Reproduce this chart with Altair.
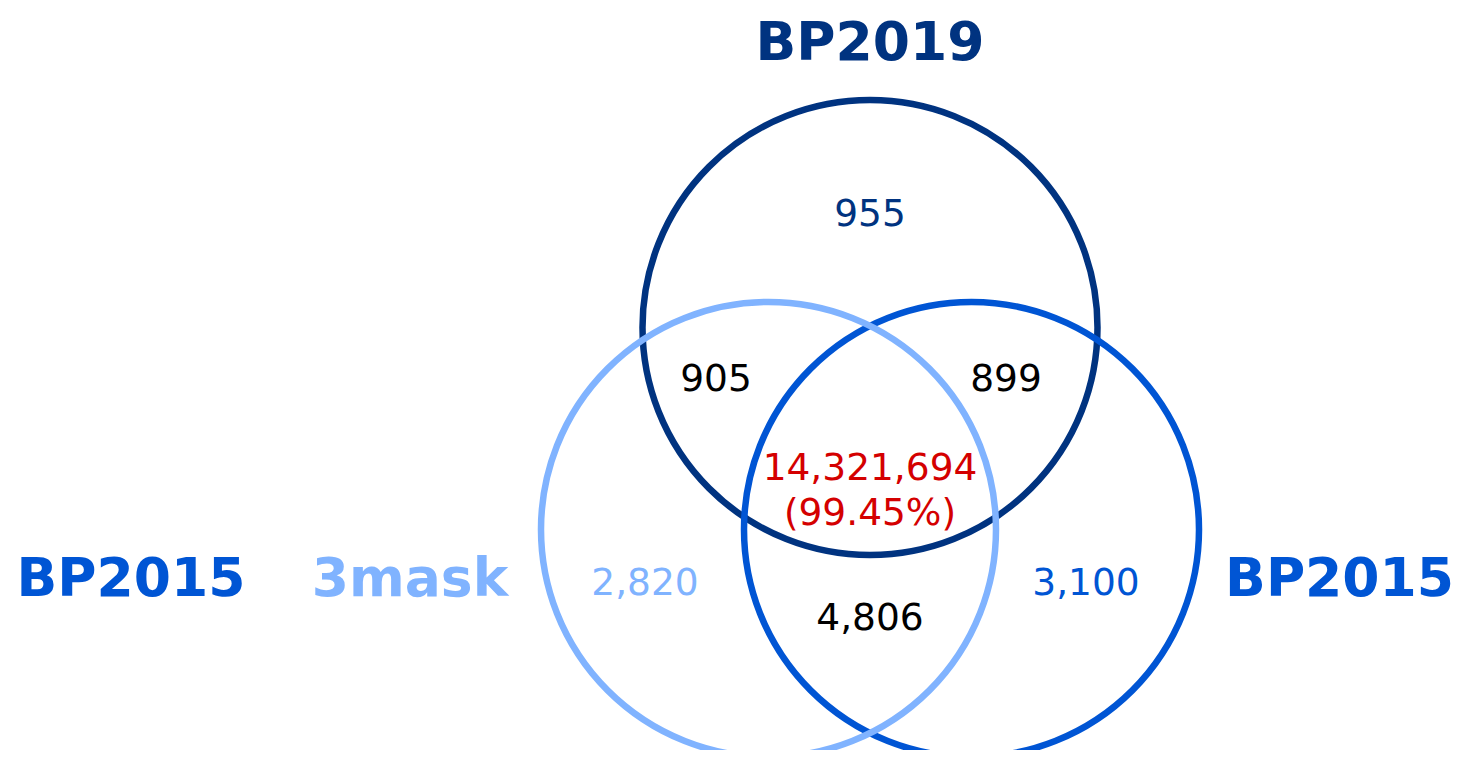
import altair as alt
import pandas as pd

# ---- data ----
set_names = ["BP2019", "3mask", "BP2015"]
set_colors = ["#003380", "#80b3ff", "#0055d4"]

region_values = ["955", "905", "899", "14,321,694", "(99.45%)", "2,820", "3,100", "4,806"]
region_colors = ["#003380", "#000000", "#000000", "#d40000", "#d40000", "#80b3ff", "#0055d4", "#000000"]

# ---- layout (page pixel coordinates) ----
W, H = 1447, 742
OX, OY = 8, 8
circle_cx = [870, 768.5, 971.5]
circle_cy = [327.5, 529.5, 529.5]
circle_r = 227.5
draw_order = [0, 2, 1]  # navy, blue, light blue on top

set_label_x = [870, 410, 1454]
set_label_y = [60, 596, 596]
set_label_align = ["center", "center", "right"]
extra_label = {"text": "BP2015", "x": 131, "y": 596, "color": "#0055d4"}

region_x = [870, 716, 1006, 870, 870, 645, 1086, 870]
region_y = [226, 391, 391, 480, 525, 595, 595, 630]

FONT = "DejaVu Sans"

xs = alt.Scale(domain=[OX, OX + W], nice=False, zero=False)
ys = alt.Scale(domain=[OY, OY + H], nice=False, zero=False, reverse=True)
X = lambda f: alt.X(f, type="quantitative", scale=xs, axis=None)
Y = lambda f: alt.Y(f, type="quantitative", scale=ys, axis=None)

circles = pd.DataFrame({
    "cx": [circle_cx[i] for i in draw_order],
    "cy": [circle_cy[i] for i in draw_order],
    "color": [set_colors[i] for i in draw_order],
    "order": list(range(3)),
})

circle_layer = alt.Chart(circles).mark_point(
    shape="circle", filled=False, strokeWidth=6.5, opacity=1,
    size=4 * circle_r ** 2
).encode(
    x=X("cx"), y=Y("cy"),
    stroke=alt.Stroke("color:N", scale=None),
    order=alt.Order("order:Q"),
)

labels = pd.DataFrame({
    "text": set_names + [extra_label["text"]],
    "x": set_label_x + [extra_label["x"]],
    "y": set_label_y + [extra_label["y"]],
    "color": set_colors + [extra_label["color"]],
    "align": set_label_align + ["center"],
})

label_layers = []
for al in ["center", "right"]:
    sub = labels[labels["align"] == al]
    label_layers.append(
        alt.Chart(sub).mark_text(
            font=FONT, fontSize=53.5, fontWeight="bold", align=al,
            baseline="alphabetic"
        ).encode(
            x=X("x"), y=Y("y"), text="text:N",
            color=alt.Color("color:N", scale=None),
        )
    )

regions = pd.DataFrame({
    "text": region_values, "x": region_x, "y": region_y, "color": region_colors,
})
region_layer = alt.Chart(regions).mark_text(
    font=FONT, fontSize=37.5, align="center", baseline="alphabetic"
).encode(
    x=X("x"), y=Y("y"), text="text:N",
    color=alt.Color("color:N", scale=None),
)

chart = alt.layer(circle_layer, *label_layers, region_layer).properties(
    width=W, height=H, padding=0, autosize=alt.AutoSizeParams(type="none")
).configure_view(stroke=None)

chart.save("out.html", embed_options={"renderer": "svg", "actions": False})
